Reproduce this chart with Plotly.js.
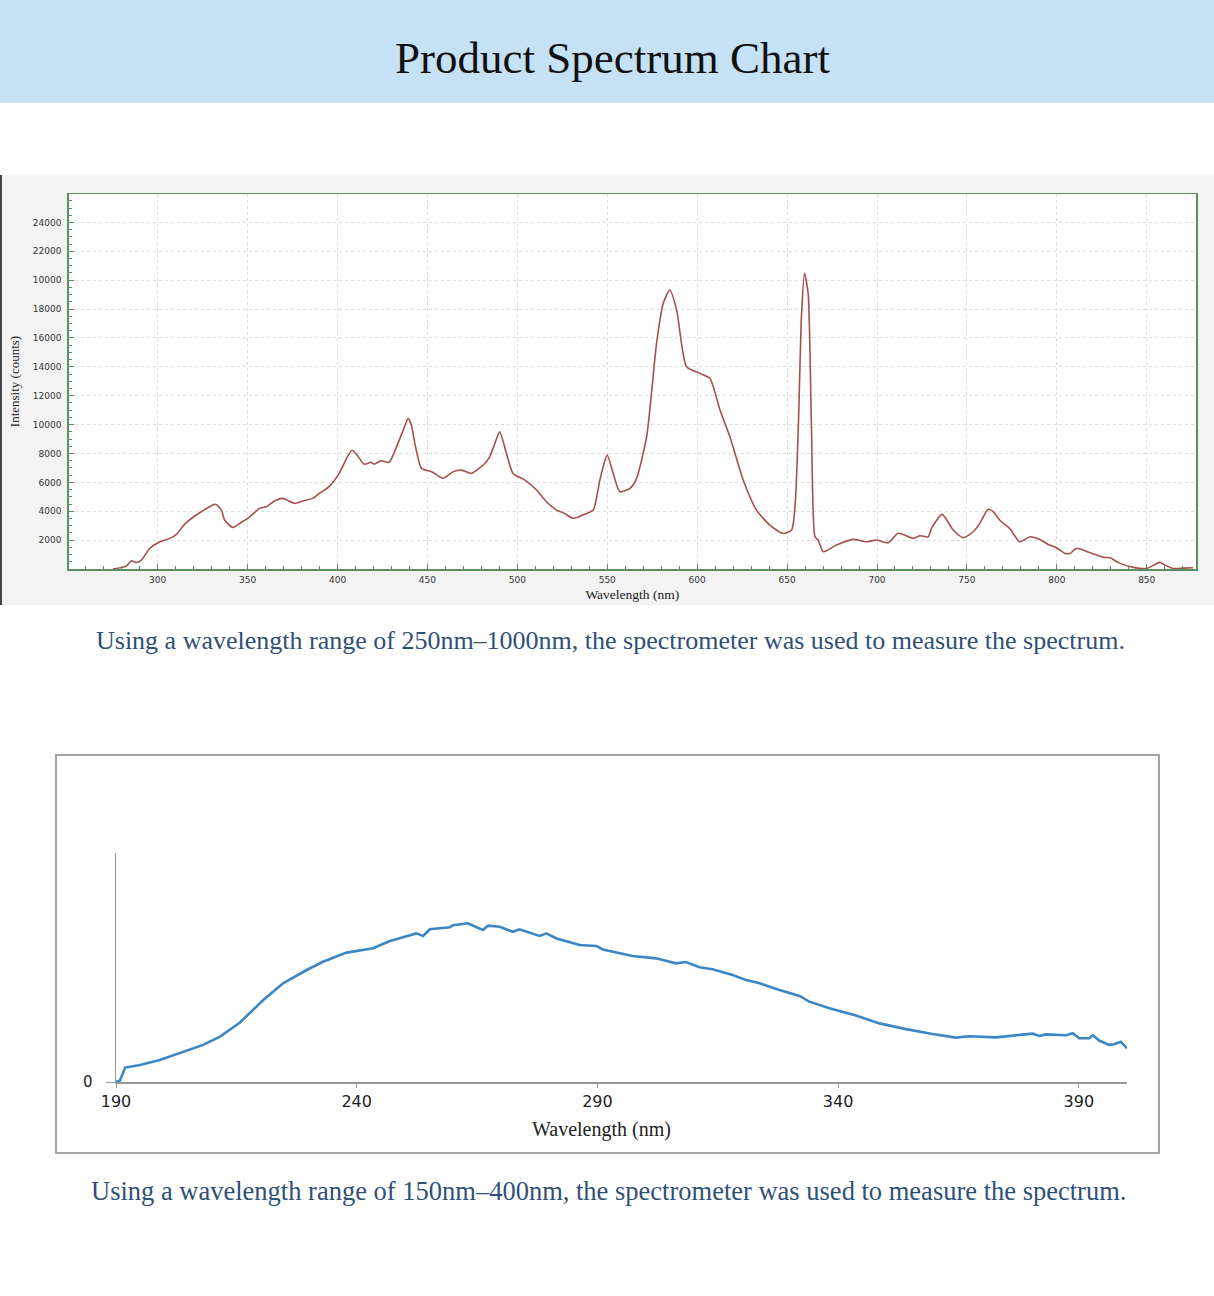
<!DOCTYPE html>
<html>
<head>
<meta charset="utf-8">
<script src="https://cdn.plot.ly/plotly-3.0.1.min.js"></script>
<style>
  html, body { margin: 0; padding: 0; background: #fff; }
  #chart { width: 1214px; height: 1296px; }
</style>
</head>
<body>
<div id="chart"></div>
<script>
// Upper spectrum, 250nm-1000nm instrument, intensity in counts
const visWavelength = [275, 282.6, 285.4, 288.2, 290.9, 295.5, 300.2, 306.7, 310.4, 315, 321.5, 330.7, 332.2,
    335.4, 337.2, 341.8, 345.5, 350.1, 356.6, 360.3, 365.9, 369.6, 376.1, 380.7, 386.2, 390, 395.3,
    400.9, 405.5, 408, 410.2, 414.8, 418.5, 420.4, 424.1, 428.7, 433.4, 436.5, 439.3, 441.2, 443,
    446.7, 452.3, 458.7, 464.3, 468.9, 474.5, 481.9, 484.6, 487.5, 490.2, 493.9, 497.6, 504.2,
    510.7, 516.2, 521.8, 525.5, 531.1, 538.5, 542.2, 545.9, 548.2, 550, 553.3, 557, 562.6, 566.3,
    571.9, 577.4, 581.1, 584.8, 588.6, 594.1, 601.5, 607.1, 612.7, 618.2, 625.6, 633, 640.4,
    647.8, 652.5, 654.5, 656.2, 658, 659.7, 661.7, 663.6, 665.5, 667.3, 670.1, 677.5, 686.8,
    694.2, 699.8, 706.2, 711.8, 720.1, 723.9, 728.5, 730.3, 736.2, 742.4, 747.9, 753.5, 757.2,
    761.8, 764.6, 768.3, 773.8, 779.4, 785, 790.6, 795.2, 799.8, 804.5, 807.3, 811, 818.4, 825.8,
    829.5, 835.1, 842.5, 849.9, 857.3, 860.1, 864.7, 870, 875.8]
const visCounts = [0, 200, 570, 450, 620, 1420, 1820, 2120, 2400, 3110, 3740, 4430, 4480,
    4090, 3390, 2880, 3160, 3510, 4200, 4310, 4780, 4890, 4540, 4710, 4890, 5240, 5700,
    6620, 7770, 8220, 8000, 7260, 7390, 7260, 7500, 7390, 8650, 9600, 10430, 9900, 8700,
    6970, 6740, 6280, 6740, 6850, 6620, 7310, 7770, 8700, 9510, 8010, 6620, 6160,
    5470, 4660, 4080, 3900, 3510, 3850, 4080, 6160, 7300, 7890, 6620, 5350, 5580, 6280,
    9160, 15620, 18390, 19320, 17930, 14010, 13550, 13200, 11010, 9160, 6160, 4080, 3040,
    2460, 2700, 4500, 9620, 17500, 20480, 19090, 9620, 2240, 2000, 1200, 1660, 2050,
    1890, 2010, 1820, 2470, 2120, 2300, 2230, 2810, 3780, 2700, 2170, 2580, 3160,
    4130, 3970, 3380, 2810, 1890, 2230, 2050, 1700, 1470, 1080, 1080, 1430, 1130, 810,
    780, 390, 110, 40, 460, 270, 40, 60, 90]

const visTickVals = [2000, 4000, 6000, 8000, 10000, 12000, 14000, 16000, 18000, 20000, 22000, 24000]
const visTickText = ['2000', '4000', '6000', '8000', '10000', '12000', '14000', '16000', '18000', '10000', '22000', '24000']

// Lower spectrum, 150nm-400nm instrument, relative intensity
const uvWavelength = [190, 190.8, 191.9, 195, 199.1, 204.7, 208.1, 211.6, 215.7, 220.6, 224.7, 229.6,
    233, 237.9, 243.4, 246.9, 252.4, 253.8, 255.2, 259.3, 260, 263.1, 266.2, 267.3, 269.7,
    272.4, 273.8, 278, 279.4, 281.5, 286.3, 289.8, 291.1, 297.3, 302.2, 306.3, 308.4, 311.2,
    313.9, 318.1, 320.9, 323.7, 327.8, 332, 334, 338.2, 343.7, 348.6, 354.1, 359.6, 364.5,
    367.2, 372.8, 378.3, 380.4, 381.8, 383.2, 387.4, 388.7, 390.1, 392.2, 392.9, 394.3, 396.3,
    397.3, 398.7, 400]
const uvIntensity = [0, 0.6, 6.3, 7.4, 9.6, 13.5, 16.2, 19.8, 25.9, 35.8, 43.1, 48.9,
    52.5, 56.5, 58.4, 61.6, 64.9, 63.8, 66.7, 67.6, 68.5, 69.3, 66.4, 68.3, 67.8,
    65.6, 66.7, 63.8, 64.9, 62.7, 59.8, 59.4, 57.9, 55, 54, 51.8, 52.4, 50.1,
    49.2, 46.7, 44.5, 43.1, 40.2, 37.6, 35.1, 32.2, 29, 25.6, 23.1, 21, 19.4,
    20, 19.5, 20.7, 21.1, 20.1, 20.8, 20.4, 21.3, 19.1, 19.1, 20.4, 18, 16.2,
    16.5, 17.6, 14.7]

const W = 1214, H = 1296
const px = x => x / W
const py = y => 1 - y / H

const serif = 'Liberation Serif, Times New Roman, serif'
const sans = 'DejaVu Sans, Verdana, sans-serif'
const green = '#5b8f5e'

const data = [{
    x: visWavelength,
    y: visCounts,
    xaxis: 'x',
    yaxis: 'y',
    mode: 'lines',
    type: 'scatter',
    line: { color: '#a5504d', width: 1.6, shape: 'spline', smoothing: 0.6 },
    hoverinfo: 'x+y'
}, {
    x: uvWavelength,
    y: uvIntensity,
    xaxis: 'x2',
    yaxis: 'y2',
    mode: 'lines',
    type: 'scatter',
    line: { color: '#3d86c4', width: 2.6 },
    hoverinfo: 'x+y'
}]

const layout = {
    width: W,
    height: H,
    margin: { l: 0, r: 0, t: 0, b: 0 },
    paper_bgcolor: '#ffffff',
    plot_bgcolor: '#ffffff',
    showlegend: false,
    xaxis: {
        domain: [px(68.7), px(1196)],
        anchor: 'y',
        range: [250.5, 877.4],
        tickvals: [300, 350, 400, 450, 500, 550, 600, 650, 700, 750, 800, 850],
        ticks: 'inside',
        ticklen: 5,
        tickcolor: green,
        minor: { dtick: 10, tick0: 0, ticks: 'inside', ticklen: 3, tickcolor: green, showgrid: false },
        showline: true,
        mirror: true,
        linecolor: green,
        linewidth: 1.5,
        showgrid: true,
        gridcolor: '#dcdcdc',
        griddash: 'dot',
        zeroline: false,
        tickfont: { family: sans, size: 9, color: '#333' },
        ticklabelstandoff: 2,
        title: { text: 'Wavelength (nm)', font: { family: serif, size: 13.5, color: '#222' }, standoff: 5 }
    },
    yaxis: {
        domain: [py(569), py(194)],
        anchor: 'x',
        range: [0, 25970],
        tickvals: visTickVals,
        ticktext: visTickText,
        ticks: 'inside',
        ticklen: 5,
        tickcolor: green,
        minor: { dtick: 500, tick0: 0, ticks: 'inside', ticklen: 3, tickcolor: green, showgrid: false },
        showline: true,
        mirror: true,
        linecolor: green,
        linewidth: 1.5,
        showgrid: true,
        gridcolor: '#dcdcdc',
        griddash: 'dot',
        zeroline: false,
        tickfont: { family: sans, size: 9, color: '#333' },
        ticklabelstandoff: 4,
        title: { text: 'Intensity (counts)', font: { family: serif, size: 13, color: '#222' }, standoff: 10 }
    },
    xaxis2: {
        domain: [px(116), px(1127)],
        anchor: 'y2',
        range: [190, 400],
        tickvals: [190, 240, 290, 340, 390],
        ticks: 'outside',
        ticklen: 4,
        tickcolor: '#999',
        showline: true,
        linecolor: '#999',
        linewidth: 1.5,
        showgrid: false,
        zeroline: false,
        tickfont: { family: sans, size: 16, color: '#222' }
    },
    yaxis2: {
        domain: [py(1082), py(853)],
        anchor: 'x2',
        range: [0, 100],
        tickvals: [0],
        ticktext: ['0'],
        ticks: 'outside',
        ticklen: 9,
        tickcolor: '#999',
        showline: true,
        linecolor: '#999',
        linewidth: 1.5,
        showgrid: false,
        zeroline: false,
        ticklabelstandoff: 10,
        tickfont: { family: sans, size: 15, color: '#222' }
    },
    shapes: [
        // header band
        { type: 'rect', xref: 'paper', yref: 'paper', x0: 0, x1: 1, y0: py(103), y1: 1,
          fillcolor: '#c5e1f5', line: { width: 0 }, layer: 'below' },
        // grey panel behind the upper chart
        { type: 'rect', xref: 'paper', yref: 'paper', x0: 0, x1: 1, y0: py(605), y1: py(175),
          fillcolor: '#f3f3f3', line: { width: 0 }, layer: 'below' },
        { type: 'line', xref: 'paper', yref: 'paper', x0: px(1), x1: px(1), y0: py(605), y1: py(175),
          line: { color: '#444', width: 2 }, layer: 'below' },
        { type: 'rect', xref: 'x domain', yref: 'y domain', x0: 0, x1: 1, y0: 0, y1: 1,
          fillcolor: '#ffffff', line: { width: 0 }, layer: 'below' },
        // frame round the lower chart
        { type: 'rect', xref: 'paper', yref: 'paper', x0: px(56), x1: px(1159), y0: py(1153), y1: py(755),
          fillcolor: '#ffffff', line: { color: '#a3a3a3', width: 2 }, layer: 'below' }
    ],
    annotations: [
        { text: 'Product Spectrum Chart', xref: 'paper', yref: 'paper', x: px(612), y: py(58),
          xanchor: 'center', yanchor: 'middle', showarrow: false,
          font: { family: serif, size: 45, color: '#111' } },
        { text: 'Wavelength (nm)', xref: 'paper', yref: 'paper', x: px(601), y: py(1129),
          xanchor: 'center', yanchor: 'middle', showarrow: false,
          font: { family: serif, size: 20, color: '#222' } },
        { text: 'Using a wavelength range of 250nm\u20131000nm, the spectrometer was used to measure the spectrum.',
          xref: 'paper', yref: 'paper', x: px(610), y: py(641), xanchor: 'center', yanchor: 'middle',
          showarrow: false, font: { family: serif, size: 26, color: '#2f5077' } },
        { text: 'Using a wavelength range of 150nm\u2013400nm, the spectrometer was used to measure the spectrum.',
          xref: 'paper', yref: 'paper', x: px(608), y: py(1191), xanchor: 'center', yanchor: 'middle',
          showarrow: false, font: { family: serif, size: 26.5, color: '#2f5077' } }
    ]
}

Plotly.newPlot('chart', data, layout, { staticPlot: true })
</script>
</body>
</html>
